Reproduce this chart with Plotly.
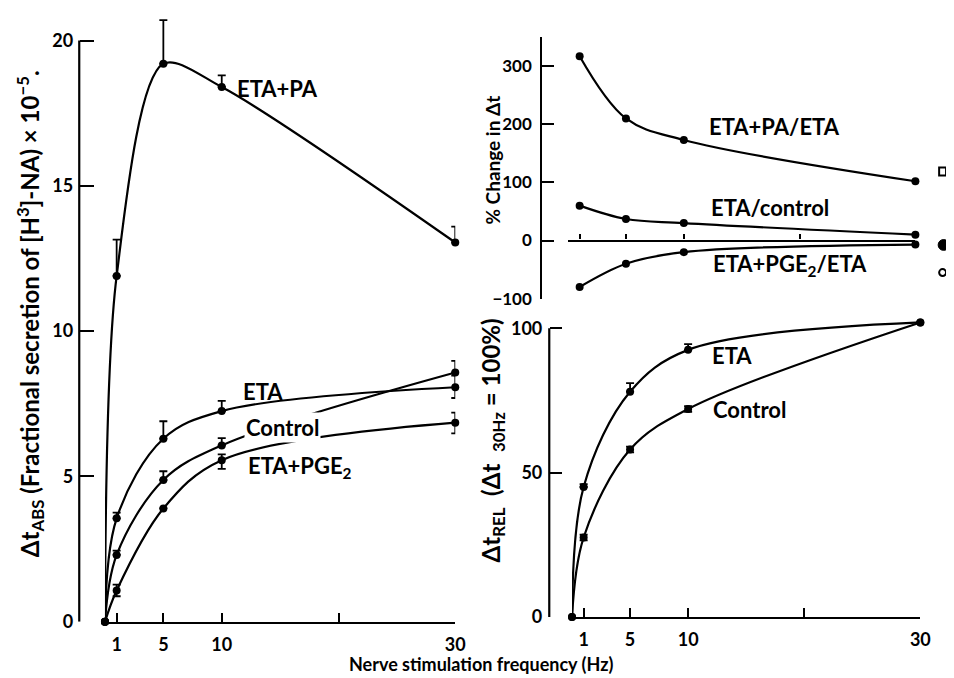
import plotly.graph_objects as go

# ---------------- data ----------------
freq = [0, 1, 5, 10, 30]
freq_pct = [1, 5, 10, 30]

# left panel: absolute secretion (x 10^-5)
abs_eta_pa = [0, 11.9, 19.2, 18.4, 13.05]
abs_eta_pa_up = [0, 1.25, 1.5, 0.4, 0.55]
abs_eta_pa_dn = [0, 0, 0, 0, 0]

abs_eta = [0, 3.56, 6.3, 7.25, 8.07]
abs_eta_up = [0, 0.2, 0.6, 0.35, 0.4]
abs_eta_dn = [0, 0, 0, 0, 0.37]

abs_ctrl = [0, 2.3, 4.88, 6.07, 8.58]
abs_ctrl_up = [0, 0.15, 0.3, 0.25, 0.4]
abs_ctrl_dn = [0, 0, 0, 0, 0]

abs_pge = [0, 1.08, 3.9, 5.56, 6.85]
abs_pge_up = [0, 0.2, 0, 0.2, 0.35]
abs_pge_dn = [0, 0.2, 0, 0.3, 0.37]

# top right: % change
pct_pa_eta = [317, 210, 173, 102]
pct_eta_ctrl = [60, 37, 30, 10]
pct_pge_eta = [-80, -40, -20, -7]

# bottom right: relative
rel_eta = [0, 45, 78, 92.5, 102]
rel_eta_up = [0, 1, 3, 2, 0]
rel_ctrl = [0, 27.5, 58, 72, 102]
rel_ctrl_err = [0, 1, 1, 1, 0]

x_tickvals = [1, 5, 10, 20, 30]
x_ticktext = ["1", "5", "10", "", "30"]

W, H = 954, 678
def px(x):
    return x / W
def py(y):
    return 1 - y / H

FONT = "Lato"
BLACK = "black"

fig = go.Figure()

def add_series(x, y, xa, ya, up=None, dn=None, smooth=1.0):
    err = None
    if up is not None:
        err = dict(type="data", symmetric=False, array=up,
                   arrayminus=dn if dn is not None else [0] * len(up),
                   color=BLACK, thickness=1.8, width=4)
    fig.add_trace(go.Scatter(
        x=x, y=y, xaxis=xa, yaxis=ya, mode="lines+markers",
        line=dict(color=BLACK, width=2.2, shape="spline", smoothing=smooth),
        marker=dict(color=BLACK, size=8),
        error_y=err, cliponaxis=False, showlegend=False))

add_series(freq, abs_eta_pa, "x", "y", abs_eta_pa_up, abs_eta_pa_dn, 0.85)
add_series(freq, abs_eta, "x", "y", abs_eta_up, abs_eta_dn)
add_series(freq, abs_ctrl, "x", "y", abs_ctrl_up, abs_ctrl_dn)
add_series(freq, abs_pge, "x", "y", abs_pge_up, abs_pge_dn)

add_series(freq_pct, pct_pa_eta, "x2", "y2")
add_series(freq_pct, pct_eta_ctrl, "x2", "y2")
add_series(freq_pct, pct_pge_eta, "x2", "y2")

add_series(freq, rel_eta, "x3", "y3", rel_eta_up, [0] * 5)
add_series(freq, rel_ctrl, "x3", "y3", rel_ctrl_err, rel_ctrl_err)

tickfont = dict(family=FONT, size=18, color=BLACK, weight="bold")
common_x = dict(range=[0, 30], showgrid=False, zeroline=False, showline=True,
                linecolor=BLACK, linewidth=2.2, ticks="inside", ticklen=9,
                tickwidth=2.2, tickcolor=BLACK, tickvals=x_tickvals,
                ticktext=x_ticktext, tickfont=tickfont, ticklabelstandoff=5,
                fixedrange=True)

y_left_top = 623 - 21 * 29.5
y_br_top = 618 - 104 * 2.93

fig.update_layout(
    width=W, height=H, margin=dict(l=0, r=0, t=0, b=0),
    paper_bgcolor="white", plot_bgcolor="rgba(0,0,0,0)",
    font=dict(family=FONT, color=BLACK, size=18, weight="bold"),
    xaxis=dict(domain=[px(98), px(452)], anchor="y", **common_x),
    yaxis=dict(domain=[py(623), py(y_left_top)], range=[0, 21],
               anchor="free", position=px(72), showline=False,
               showgrid=False, zeroline=False, ticks="inside", ticklen=14,
               tickwidth=2.2, tickcolor=BLACK, tickvals=[0, 5, 10, 15, 20],
               tickfont=tickfont, ticklabelstandoff=6),
    xaxis2=dict(domain=[px(566), px(917)], anchor="free", position=py(236),
                range=[0, 30], showgrid=False, zeroline=False, showline=True,
                linecolor=BLACK, linewidth=2.2, ticks="inside", ticklen=5,
                tickwidth=2.2, tickcolor=BLACK, tickvals=[0, 1, 5, 10, 20, 30],
                showticklabels=False),
    xaxis4=dict(overlaying="x2", anchor="free", position=py(236),
                range=[0, 30], showgrid=False, zeroline=False, showline=False,
                ticks="outside", ticklen=5, tickwidth=2.2, tickcolor=BLACK,
                tickvals=[0, 1, 5, 10, 20, 30], showticklabels=False),
    yaxis2=dict(domain=[py(295), py(29.5)], range=[-100, 350],
                anchor="free", position=px(539), showline=True,
                linecolor=BLACK, linewidth=2.2, showgrid=False, zeroline=False,
                ticks="inside", ticklen=12, tickwidth=2.2, tickcolor=BLACK,
                tickvals=[-100, 0, 100, 200, 300],
                ticktext=["\u2212100", "0", "100", "200", "300"],
                tickfont=dict(family=FONT, size=17, color=BLACK, weight="bold"),
                ticklabelstandoff=5),
    xaxis3=dict(domain=[px(570), px(922)], anchor="y3", **common_x),
    yaxis3=dict(domain=[py(618), py(y_br_top)], range=[0, 104],
                anchor="free", position=px(547), showline=False,
                showgrid=False, zeroline=False, ticks="inside", ticklen=12,
                tickwidth=2.2, tickcolor=BLACK, tickvals=[0, 50, 100],
                tickfont=tickfont, ticklabelstandoff=7),
)

# y-axis spines that stop at the top tick
fig.add_shape(type="line", xref="paper", yref="y", x0=px(72), x1=px(72),
              y0=0, y1=20, line=dict(color=BLACK, width=2.2))
fig.add_shape(type="line", xref="paper", yref="y3", x0=px(547), x1=px(547),
              y0=0, y1=100, line=dict(color=BLACK, width=2.2))

# side key symbols (square, filled circle, open circle)
fig.add_shape(type="rect", xref="paper", yref="paper",
              x0=px(941), x1=px(948), y0=py(170), y1=py(162),
              line=dict(color=BLACK, width=2), fillcolor="white")
fig.add_shape(type="circle", xref="paper", yref="paper",
              x0=px(940), x1=px(951), y0=py(246), y1=py(235),
              line=dict(color=BLACK, width=1), fillcolor=BLACK)
fig.add_shape(type="circle", xref="paper", yref="paper",
              x0=px(941), x1=px(948), y0=py(272), y1=py(265),
              line=dict(color=BLACK, width=2), fillcolor="white")

def label(text, x, y, size=22, angle=0, bg=None):
    fig.add_annotation(text=text, xref="paper", yref="paper", x=px(x), y=py(y),
                       showarrow=False, textangle=angle,
                       font=dict(family=FONT, size=size, color=BLACK, weight="bold"),
                       bgcolor=bg, xanchor="center", yanchor="middle")

# curve labels
label("ETA+PA", 272, 82)
label("ETA", 258, 389)
label("Control", 277, 426, bg="white")
label("ETA+PGE<sub>2</sub>", 295, 466)
label("ETA+PA/ETA", 775, 120)
label("ETA/control", 770, 202)
label("ETA+PGE<sub>2</sub>/ETA", 790, 261)
label("ETA", 732, 353)
label("Control", 749, 408)

# axis titles
label("Nerve stimulation frequency (Hz)", 478, 666, size=18)
label("\u0394t<sub>ABS</sub> (Fractional secretion of [H<sup>3</sup>]-NA) \u00d7 10<sup>\u22125</sup>.",
      23, 310, size=24, angle=-90)
label("% Change in \u0394t", 490, 154, size=19, angle=-90)
label("\u0394t<sub>REL</sub>  (\u0394t  <sub>30Hz</sub> = 100%)", 490, 439, size=24, angle=-90)

fig.write_html("out.html")
